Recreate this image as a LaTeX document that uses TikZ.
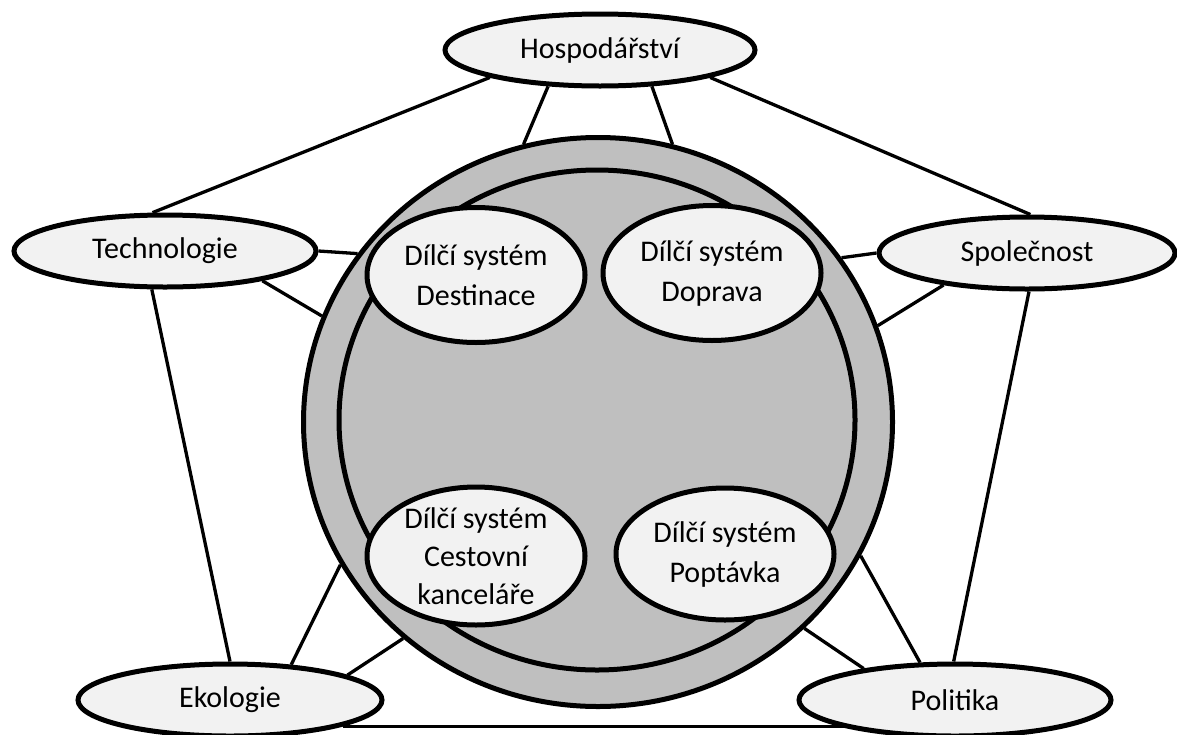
\documentclass[tikz,border=0pt]{standalone}
\usepackage{fontspec}
\setmainfont{Carlito}
\usepackage{tikz}
\usetikzlibrary{shapes.geometric, backgrounds}

\definecolor{lightfill}{RGB}{242,242,242}
\definecolor{ringfill}{RGB}{191,191,191}

\tikzset{
    ring/.style={ellipse, draw=black, line width=5pt, fill=ringfill, inner sep=0pt},
    field/.style={ellipse, draw=black, line width=5pt, fill=lightfill, inner sep=0pt,
        minimum height=72pt, font=\fontsize{30}{40}\selectfont},
    subsys/.style={ellipse, draw=black, line width=5pt, fill=lightfill, inner sep=-14pt,
        align=center, minimum width=218pt, font=\fontsize{30}{40}\selectfont},
    link/.style={black, line width=3.3pt}
}

\begin{document}
\begin{tikzpicture}[x=1pt, y=-1pt]
    \useasboundingbox (0,0) rectangle (1177,734);

    % big circle
    \node[ring, minimum width=589pt, minimum height=569pt] (outer) at (598,422) {};
    \node[ring, minimum width=516pt, minimum height=500pt] (inner) at (597,420) {};

    % subsystems
    \node[subsys, minimum height=135pt] (dest) at (476,275) {Dílčí systém\\Destinace};
    \node[subsys, minimum height=135pt] (dopr) at (712,273) {Dílčí systém\\Doprava};
    \node[subsys, minimum height=138pt, font=\fontsize{30}{38}\selectfont] (kanc) at (476,556) {Dílčí systém\\Cestovní\\kanceláře};
    \node[subsys, minimum height=132pt] (popt) at (725,554) {Dílčí systém\\Poptávka};

    % surrounding fields
    \node[field, minimum width=310pt] (hosp) at (600,50) {Hospodářství};
    \node[field, minimum width=302pt] (tech) at (165,251) {Technologie};
    \node[field, minimum width=296pt] (soc) at (1027,253) {Společnost};
    \node[field, minimum width=304pt] (eko) at (230,700) {Ekologie};
    \node[field, minimum width=312pt] (pol) at (955,700) {Politika};

    % connectors
    \begin{scope}[on background layer]
        \foreach \a/\b in {
            hosp.194/tech.108,
            hosp.346/soc.85,
            hosp.215/outer.105,
            hosp.325/outer.75,
            tech.east/outer.145,
            tech.343/outer.159,
            tech.251/eko.north,
            soc.west/outer.34,
            soc.201/outer.19,
            soc.273/pol.92,
            eko.30/outer.209,
            eko.12/outer.228,
            pol.133/outer.333,
            pol.161/outer.315}{

            \draw[link] (\a) -- (\b);
        }
        \draw[link] (eko.347) -- (eko.347 -| pol.center);
    \end{scope}
\end{tikzpicture}
\end{document}
